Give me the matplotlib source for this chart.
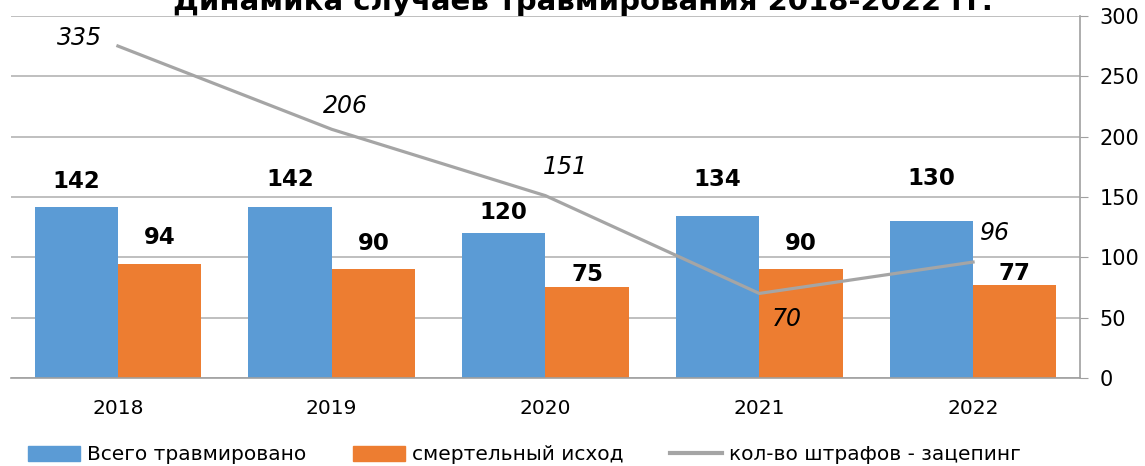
import matplotlib.pyplot as plt
from matplotlib.lines import Line2D
from matplotlib.patches import Patch

years = ['2018', '2019', '2020', '2021', '2022']
injured = [142, 142, 120, 134, 130]
fatal = [94, 90, 75, 90, 77]
# line as drawn in the picture; the first point sits lower than its label says
fines = [275, 206, 151, 70, 96]
fines_labels = ['335', '206', '151', '70', '96']

blue = '#5B9BD5'
orange = '#ED7D31'
grey = '#A5A5A5'

plt.rcParams['font.family'] = ['DejaVu Sans']

fig = plt.figure(figsize=(11.45, 4.66), dpi=100)
ax = fig.add_axes([0.0096, 0.189, 0.9336, 0.777])

x = list(range(len(years)))
w = 0.39
ax.bar([i - w / 2 for i in x], injured, width=w, color=blue, zorder=2)
ax.bar([i + w / 2 for i in x], fatal, width=w, color=orange, zorder=2)
ax.plot(x, fines, color=grey, lw=2.3, zorder=3, solid_joinstyle='round')

# label gaps above the bars (points), placed by hand as in the original
gap_inj = [10, 11.5, 6.5, 18, 22]
gap_fat = [11, 10, 0.7, 10, 0]
for i in x:
    ax.annotate(str(injured[i]), (i - w / 2, injured[i]), xytext=(0, gap_inj[i]),
                textcoords='offset points', ha='center', va='bottom',
                fontsize=16.5, fontweight='bold', zorder=4)
    ax.annotate(str(fatal[i]), (i + w / 2, fatal[i]), xytext=(0, gap_fat[i]),
                textcoords='offset points', ha='center', va='bottom',
                fontsize=16.5, fontweight='bold', zorder=4)

# label offsets for the line (points)
offs = [(-28, -3), (10, 8), (14, 12), (20, -27), (16, 12)]
for i in x:
    ax.annotate(fines_labels[i], (i, fines[i]), xytext=offs[i],
                textcoords='offset points', ha='center', va='bottom',
                fontsize=17, fontstyle='italic', zorder=4)

ax.set_xlim(-0.5, 4.5)
ax.set_ylim(0, 300)
ax.set_yticks(range(0, 301, 50))
ax.yaxis.tick_right()
ax.tick_params(axis='y', which='both', direction='out', length=6, color='#A0A0A0',
               labelsize=15, pad=8)
ax.set_xticks(x)
ax.set_xticklabels(years)
ax.tick_params(axis='x', length=0, labelsize=14.5, pad=15)
ax.grid(axis='y', color='#B4B4B4', lw=1.2, zorder=0)
for s in ['top', 'left']:
    ax.spines[s].set_visible(False)
ax.spines['bottom'].set_color('#A0A0A0')
ax.spines['bottom'].set_linewidth(1.2)
ax.spines['right'].set_color('#A0A0A0')
ax.spines['right'].set_linewidth(1.2)

fig.text(0.509, 1 - 10 / 466, 'Динамика случаев травмирования 2018-2022 гг.',
         ha='center', va='baseline', fontsize=21, fontweight='bold')

handles = [Patch(color=blue), Patch(color=orange),
           Line2D([0], [0], color=grey, lw=3)]
fig.legend(handles, ['Всего травмировано', 'смертельный исход',
                     'кол-во штрафов - зацепинг'],
           loc='center', bbox_to_anchor=(0.458, 1 - 455 / 466), ncol=3,
           frameon=False, fontsize=14.5, handlelength=2.6, handleheight=0.7,
           handletextpad=0.35, columnspacing=2.3, borderpad=0, borderaxespad=0)

fig.savefig('out.png', dpi=100)
